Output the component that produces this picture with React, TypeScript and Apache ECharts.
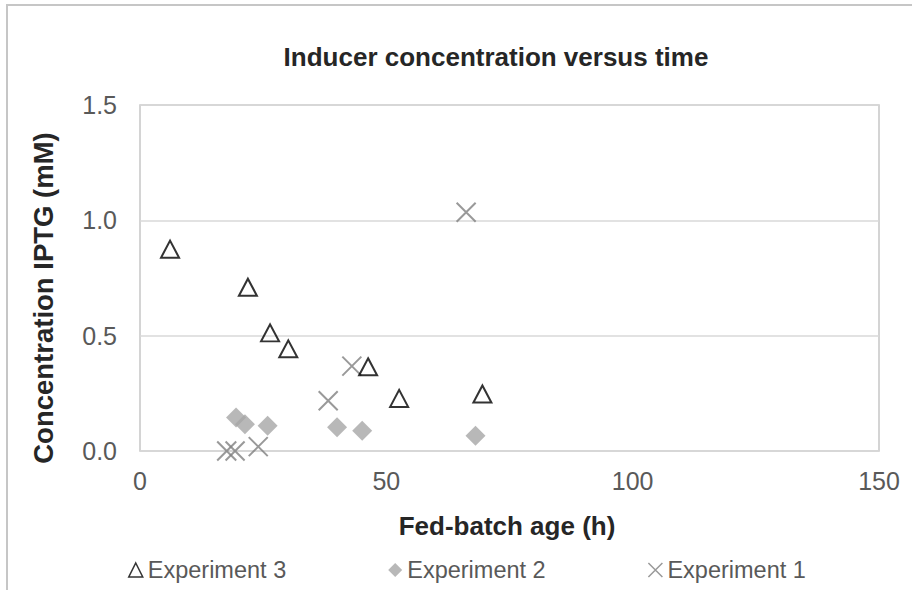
import React, { useEffect, useRef } from "react";
import * as echarts from "echarts";

const seriesNames = ["Experiment 3", "Experiment 2", "Experiment 1"];

const exp3X = [6.1, 21.9, 26.4, 30.1, 46.3, 52.6, 69.5];
const exp3Y = [0.875, 0.71, 0.512, 0.443, 0.365, 0.228, 0.247];

const exp2X = [19.5, 21.3, 25.9, 40.0, 45.1, 68.1];
const exp2Y = [0.145, 0.116, 0.11, 0.103, 0.088, 0.066];

const exp1X = [17.6, 19.3, 24.0, 38.2, 43.0, 66.2];
const exp1Y = [0.0, 0.0, 0.019, 0.218, 0.368, 1.035];

const xTicks = [0, 50, 100, 150];
const yTicks = [0, 0.5, 1.0, 1.5];

const chartTitle = "Inducer concentration versus time";
const xTitle = "Fed-batch age (h)";
const yTitle = "Concentration IPTG (mM)";

const FONT = "'Liberation Sans', Arial, sans-serif";

const pair = (xs: number[], ys: number[]) => xs.map((x, i) => [x, ys[i]]);

export default function App() {
  const ref = useRef<HTMLDivElement>(null);
  useEffect(() => {
    if (!ref.current) return;
    const chart = echarts.init(ref.current, null, { renderer: "svg" });
    const crossPath = "path://M0,0L10,10M10,0L0,10";
    chart.setOption({
      animation: false,
      backgroundColor: "#ffffff",
      textStyle: { fontFamily: FONT },
      grid: {
        left: 140,
        right: 33,
        top: 105,
        bottom: 139,
        show: true,
        borderColor: "#c6c6c6",
        borderWidth: 1.5,
        backgroundColor: "transparent",
      },
      xAxis: {
        type: "value",
        min: xTicks[0],
        max: xTicks[xTicks.length - 1],
        interval: 50,
        axisLine: { show: false },
        axisTick: { show: false },
        splitLine: { show: false },
        axisLabel: {
          color: "#595959",
          fontSize: 25,
          fontFamily: FONT,
          margin: 17,
        },
      },
      yAxis: {
        type: "value",
        min: yTicks[0],
        max: yTicks[yTicks.length - 1],
        interval: 0.5,
        axisLine: { show: false },
        axisTick: { show: false },
        splitLine: { show: true, lineStyle: { color: "#d9d9d9", width: 1.5 } },
        axisLabel: {
          color: "#595959",
          fontSize: 25,
          fontFamily: FONT,
          margin: 23,
          formatter: (v: number) => v.toFixed(1),
        },
      },
      legend: {
        show: true,
        left: 128,
        top: 558,
        padding: 0,
        itemGap: 102,
        itemWidth: 14,
        itemHeight: 14,
        textStyle: { color: "#595959", fontSize: 23.5, fontFamily: FONT },
        data: [
          { name: seriesNames[0], icon: "triangle", itemStyle: { color: "transparent", borderColor: "#000000", borderWidth: 1.5 } },
          { name: seriesNames[1], icon: "diamond", itemStyle: { color: "#a6a6a6", borderWidth: 0 } },
          { name: seriesNames[2], icon: crossPath, itemStyle: { color: "transparent", borderColor: "#7f7f7f", borderWidth: 1.5 } },
        ],
      },
      graphic: [
        {
          type: "rect",
          z: -10,
          silent: true,
          shape: { x: 7, y: 5, width: 1400, height: 1400 },
          style: { fill: "none", stroke: "#c6c6c6", lineWidth: 2 },
        },
        {
          type: "text",
          x: 496,
          y: 57,
          style: {
            text: chartTitle,
            fontSize: 26,
            fontWeight: "bold",
            fontFamily: FONT,
            fill: "#262626",
            align: "center",
            verticalAlign: "middle",
          },
        },
        {
          type: "text",
          x: 507,
          y: 526,
          style: {
            text: xTitle,
            fontSize: 26,
            fontWeight: "bold",
            fontFamily: FONT,
            fill: "#262626",
            align: "center",
            verticalAlign: "middle",
          },
        },
        {
          type: "text",
          x: 43,
          y: 298,
          rotation: Math.PI / 2,
          style: {
            text: yTitle,
            fontSize: 27.5,
            fontWeight: "bold",
            fontFamily: FONT,
            fill: "#262626",
            align: "center",
            verticalAlign: "middle",
          },
        },
      ],
      series: [
        {
          name: seriesNames[2],
          type: "scatter",
          symbol: crossPath,
          symbolSize: 19,
          itemStyle: { color: "transparent", borderColor: "#7f7f7f", borderWidth: 2 },
          data: pair(exp1X, exp1Y),
          z: 2,
        },
        {
          name: seriesNames[1],
          type: "scatter",
          symbol: "diamond",
          symbolSize: 20,
          itemStyle: { color: "#a6a6a6" },
          data: pair(exp2X, exp2Y),
          z: 3,
        },
        {
          name: seriesNames[0],
          type: "scatter",
          symbol: "triangle",
          symbolSize: [18, 17],
          itemStyle: { color: "transparent", borderColor: "#000000", borderWidth: 2 },
          data: pair(exp3X, exp3Y),
          z: 4,
        },
      ],
    });
    return () => chart.dispose();
  }, []);
  return (
    <div
      ref={ref}
      style={{ position: "fixed", left: 0, top: 0, width: 912, height: 590 }}
    />
  );
}
